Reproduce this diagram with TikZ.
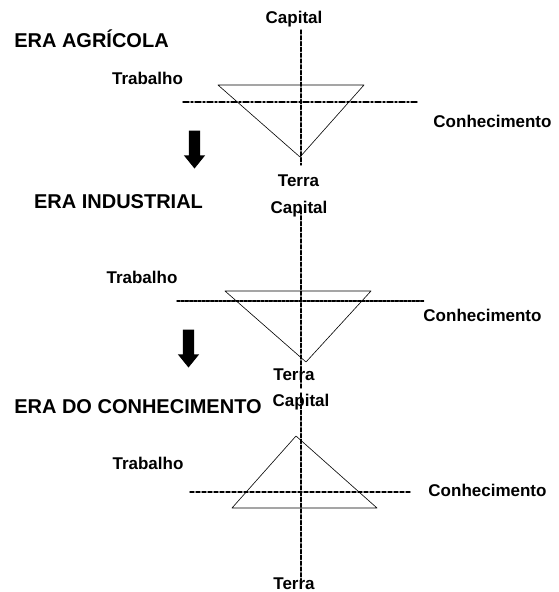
\documentclass[tikz,border=0pt]{standalone}
\usepackage{fontspec}
\setmainfont{Liberation Sans}
\usepackage{tkz-euclide}
\usetikzlibrary{shapes.arrows}
\tikzset{era/.style = {font=\fontsize{20}{24}\selectfont\bfseries, anchor=base}}
\tikzset{rotulo/.style = {font=\fontsize{17}{20}\selectfont\bfseries, anchor=base}}
\tikzset{eixo/.style = {line width=1.4pt, dash pattern=on 4pt off 1.8pt}}
\tikzset{lado/.style = {line width=0.6pt}}
\tikzset{seta/.style = {single arrow, fill=black, draw=none, rotate=-90, inner xsep=0pt, inner ysep=5.5pt,
    minimum height=38pt, minimum width=0pt, single arrow head extend=5pt, single arrow tip angle=78}}

\begin{document}
\begin{tikzpicture}[x=1pt, y=-1pt]
\useasboundingbox (0,0) rectangle (558,592);
% era agricola
\tkzDefPoints{301/30/C1, 301/165/T1, 183/102/H1, 417/102/K1, 218/85/A1, 364/85/B1, 300/157/V1}
\tkzDrawSegment[eixo](C1,T1)
\tkzDrawSegment[line width=1.4pt, dash pattern=on 6pt off 2pt on 2pt off 2pt](H1,K1)
\tkzDrawPolygon[lado](A1,B1,V1)
\node[era] (agricola) at (91.5,47) {ERA AGRÍCOLA};
\node[rotulo] (capital1) at (294,23) {Capital};
\node[rotulo] (trabalho1) at (147.5,84) {Trabalho};
\node[rotulo] (conhec1) at (492.5,127) {Conhecimento};
\node[rotulo] (terra1) at (298.5,186) {Terra};
\node[seta] (seta1) at (194.5,146) {};
% era industrial
\tkzDefPoints{301/210/C2, 301/388/T2, 177/301/H2, 424/301/K2, 225/291/A2, 371/291/B2, 306/362/V2}
\tkzDrawSegment[eixo](C2,T2)
\tkzDrawSegment[line width=1.4pt, dash pattern=on 3pt off 1.2pt](H2,K2)
\tkzDrawPolygon[lado](A2,B2,V2)
\node[era] (industrial) at (118.5,208) {ERA INDUSTRIAL};
\node[rotulo] (capital2) at (299,213) {Capital};
\node[rotulo] (trabalho2) at (142,283) {Trabalho};
\node[rotulo] (conhec2) at (482.5,321) {Conhecimento};
\node[rotulo] (terra2) at (294,380) {Terra};
\node[seta] (seta2) at (188.5,345) {};
% era do conhecimento
\tkzDefPoints{301/393/C3, 301/580/T3, 190/492/H3, 410/492/K3, 296/436/A3, 232/508/B3, 377/508/V3}
\tkzDrawSegment[eixo](C3,T3)
\tkzDrawSegment[line width=1.4pt, dash pattern=on 4pt off 2pt](H3,K3)
\tkzDrawPolygon[lado](A3,B3,V3)
\node[era] (conhecimento) at (138,413) {ERA DO CONHECIMENTO};
\node[rotulo] (capital3) at (301,406) {Capital};
\node[rotulo] (trabalho3) at (148,469) {Trabalho};
\node[rotulo] (conhec3) at (487.5,496) {Conhecimento};
\node[rotulo] (terra3) at (294,589) {Terra};
\end{tikzpicture}
\end{document}
